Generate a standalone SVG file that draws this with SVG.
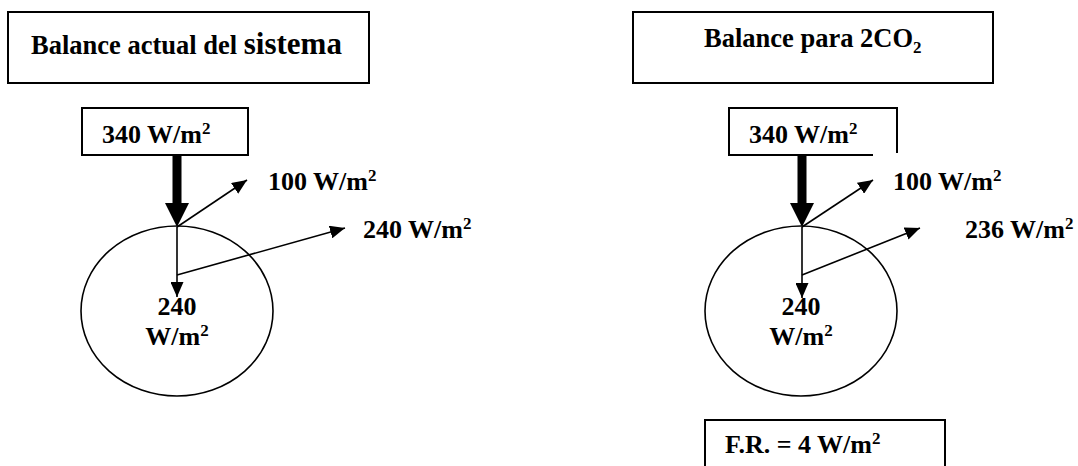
<svg xmlns="http://www.w3.org/2000/svg" width="1078" height="466" viewBox="0 0 1078 466">
<style>
.box{fill:#fff;stroke:#000;stroke-width:2}
.ell{fill:none;stroke:#000;stroke-width:1.6}
.t{font-family:"Liberation Serif","Times New Roman",serif;font-weight:bold;font-size:26px;fill:#000}
.thin{stroke:#000;stroke-width:1.6;fill:none;marker-end:url(#ah)}
.thick{fill:#000;stroke:none}
</style>
<defs>
<marker id="ah" viewBox="0 0 15 13" refX="15" refY="6.5" markerWidth="15" markerHeight="13" markerUnits="userSpaceOnUse" orient="auto">
<path d="M0,0 L15,6.5 L0,13 z" fill="#000"/>
</marker>
</defs>
<rect width="1078" height="466" fill="#fff"/>

<g id="title-left">
<rect class="box" x="8" y="12" width="361" height="71"/>
<text class="t" x="31" y="54" style="font-size:26.5px">Balance actual del <tspan style="font-size:31px">sistema</tspan></text>
</g>

<g id="title-right">
<rect class="box" x="633" y="12" width="360" height="71"/>
<text class="t" x="704" y="47" style="font-size:26.5px">Balance para 2CO<tspan style="font-size:17px" dy="6">2</tspan></text>
</g>

<g id="in-left">
<rect class="box" x="82" y="108" width="166" height="47"/>
<text class="t" x="102" y="143">340 W/m<tspan style="font-size:17px" dy="-9">2</tspan></text>
</g>

<g id="in-right">
<path class="box" style="fill:none" d="M873,155 H729 V108 H897 V153"/>
<text class="t" x="749" y="143">340 W/m<tspan style="font-size:17px" dy="-9">2</tspan></text>
</g>

<g id="earth-left">
<ellipse class="ell" cx="177" cy="311" rx="96" ry="85"/>
<text class="t" x="177" y="315" text-anchor="middle">240</text>
<text class="t" x="177" y="345" text-anchor="middle">W/m<tspan style="font-size:17px" dy="-9">2</tspan></text>
</g>

<g id="earth-right">
<ellipse class="ell" cx="801" cy="311" rx="96" ry="85"/>
<text class="t" x="801" y="315" text-anchor="middle">240</text>
<text class="t" x="801" y="345" text-anchor="middle">W/m<tspan style="font-size:17px" dy="-9">2</tspan></text>
</g>

<g id="label-left-100"><text class="t" x="268" y="190">100 W/m<tspan style="font-size:17px" dy="-9">2</tspan></text></g>
<g id="label-left-240"><text class="t" x="363" y="238">240 W/m<tspan style="font-size:17px" dy="-9">2</tspan></text></g>
<g id="label-right-100"><text class="t" x="893" y="190">100 W/m<tspan style="font-size:17px" dy="-9">2</tspan></text></g>
<g id="label-right-236"><text class="t" x="965" y="238">236 W/m<tspan style="font-size:17px" dy="-9">2</tspan></text></g>

<g id="fr-box">
<rect class="box" x="705" y="420" width="240" height="70"/>
<text class="t" x="725" y="453">F.R. = 4 W/m<tspan style="font-size:17px" dy="-9">2</tspan></text>
</g>

<g id="connectors">
<path class="thick" d="M172.5,155 H181.5 V203 H189 L177,227 L165,203 H172.5 Z"/>
<line class="thin" x1="177" y1="227" x2="247" y2="180"/>
<line class="thin" x1="177" y1="227" x2="177" y2="297"/>
<line class="thin" x1="177" y1="275" x2="345" y2="228"/>

<path class="thick" d="M797.5,155 H806.5 V203 H814 L802,227 L790,203 H797.5 Z"/>
<line class="thin" x1="802" y1="227" x2="873" y2="180"/>
<line class="thin" x1="802" y1="227" x2="802" y2="298"/>
<line class="thin" x1="802" y1="275" x2="920" y2="228"/>
</g>
</svg>
